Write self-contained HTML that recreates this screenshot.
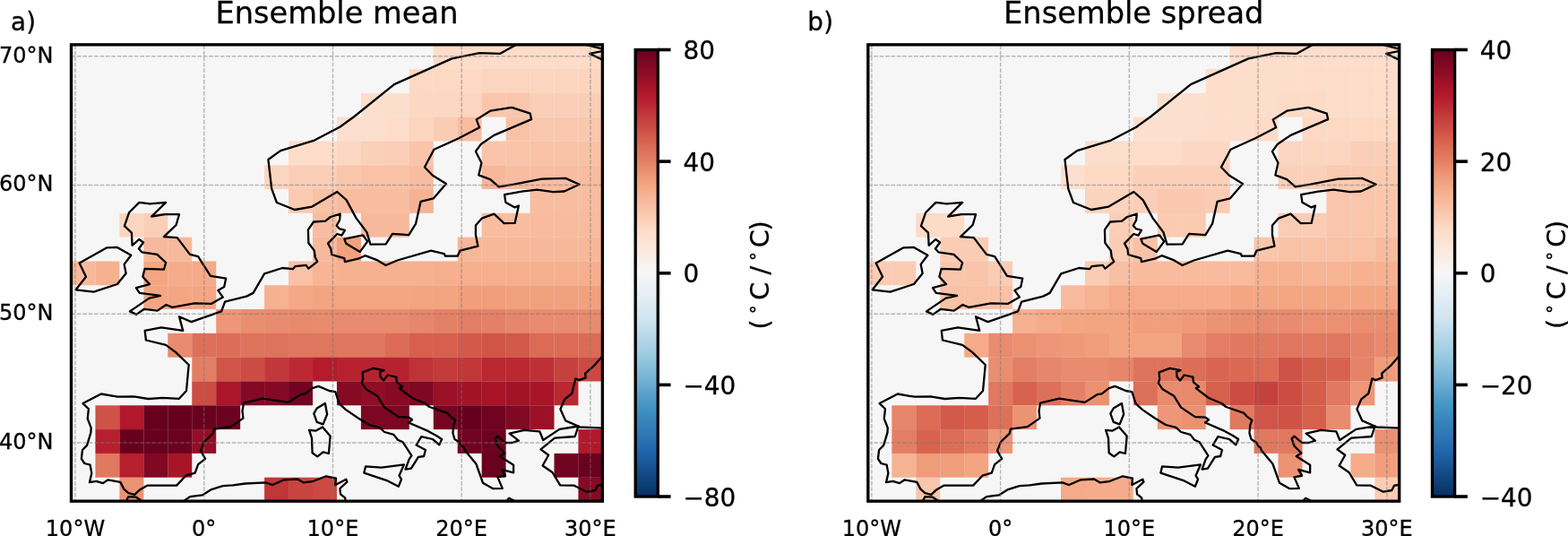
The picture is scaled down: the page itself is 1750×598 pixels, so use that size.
<!DOCTYPE html>
<html lang="en">
<head>
<meta charset="utf-8">
<title>Ensemble mean and ensemble spread</title>
<style>
html,body{margin:0;padding:0;background:#fff;}
body{width:1750px;height:598px;overflow:hidden;}
svg{display:block;}
</style>
</head>
<body>
<svg width="1750" height="598" viewBox="0 0 1750 598" font-family="'DejaVu Sans', 'Liberation Sans', sans-serif">
<defs><linearGradient id="rdbu" x1="0" y1="0" x2="0" y2="1"><stop offset="0%" stop-color="#67001f"/><stop offset="2.5%" stop-color="#790622"/><stop offset="5%" stop-color="#8a0b25"/><stop offset="7.5%" stop-color="#9f1228"/><stop offset="10%" stop-color="#b1182b"/><stop offset="12.5%" stop-color="#ba2832"/><stop offset="15%" stop-color="#c43b3c"/><stop offset="17.5%" stop-color="#cc4c44"/><stop offset="20%" stop-color="#d6604d"/><stop offset="22.5%" stop-color="#dd7059"/><stop offset="25%" stop-color="#e48066"/><stop offset="27.5%" stop-color="#ec9374"/><stop offset="30%" stop-color="#f3a481"/><stop offset="32.5%" stop-color="#f6b394"/><stop offset="35%" stop-color="#f8bfa4"/><stop offset="37.5%" stop-color="#fbccb4"/><stop offset="40%" stop-color="#fddbc7"/><stop offset="42.5%" stop-color="#fce2d2"/><stop offset="45%" stop-color="#fae9df"/><stop offset="47.5%" stop-color="#f9f0eb"/><stop offset="50%" stop-color="#f7f6f6"/><stop offset="52.5%" stop-color="#edf2f5"/><stop offset="55%" stop-color="#e4eef4"/><stop offset="57.5%" stop-color="#dae9f2"/><stop offset="60%" stop-color="#d1e5f0"/><stop offset="62.5%" stop-color="#c2ddec"/><stop offset="65%" stop-color="#b1d5e7"/><stop offset="67.5%" stop-color="#a2cde3"/><stop offset="70%" stop-color="#90c4dd"/><stop offset="72.5%" stop-color="#7eb8d7"/><stop offset="75%" stop-color="#6bacd1"/><stop offset="77.5%" stop-color="#569fc9"/><stop offset="80%" stop-color="#4393c3"/><stop offset="82.5%" stop-color="#3a87bd"/><stop offset="85%" stop-color="#327cb7"/><stop offset="87.5%" stop-color="#2a71b2"/><stop offset="90%" stop-color="#2065ab"/><stop offset="92.5%" stop-color="#1a5899"/><stop offset="95%" stop-color="#124984"/><stop offset="97.5%" stop-color="#0c3d73"/><stop offset="100%" stop-color="#053061"/></linearGradient></defs>
<rect width="1750" height="598" fill="#fff"/>
<g>
<clipPath id="clip0"><rect x="79.5" y="49.85" width="592.9" height="509.3"/></clipPath>
<rect x="79.5" y="49.85" width="592.9" height="509.3" fill="#f7f6f6"/>
<g clip-path="url(#clip0)">
<g stroke="none">
<rect x="483.75" y="50.2" width="27.1" height="26.96" fill="#fddcc9"/>
<rect x="510.7" y="50.2" width="27.1" height="26.96" fill="#fddcc9"/>
<rect x="537.65" y="50.2" width="27.1" height="26.96" fill="#fddcc9"/>
<rect x="564.6" y="50.2" width="27.1" height="26.96" fill="#fddcc9"/>
<rect x="591.55" y="50.2" width="27.1" height="26.96" fill="#fddcc9"/>
<rect x="618.5" y="50.2" width="27.1" height="26.96" fill="#fddcc9"/>
<rect x="645.45" y="50.2" width="26.95" height="26.96" fill="#fddbc7"/>
<rect x="456.8" y="77.01" width="27.1" height="26.96" fill="#fdd9c4"/>
<rect x="483.75" y="77.01" width="27.1" height="26.96" fill="#fdd9c4"/>
<rect x="510.7" y="77.01" width="27.1" height="26.96" fill="#fdd9c4"/>
<rect x="537.65" y="77.01" width="27.1" height="26.96" fill="#fcd5bf"/>
<rect x="564.6" y="77.01" width="27.1" height="26.96" fill="#fcd5bf"/>
<rect x="591.55" y="77.01" width="27.1" height="26.96" fill="#fcd5bf"/>
<rect x="618.5" y="77.01" width="27.1" height="26.96" fill="#fcd5bf"/>
<rect x="645.45" y="77.01" width="26.95" height="26.96" fill="#fcd5bf"/>
<rect x="402.9" y="103.81" width="27.1" height="26.96" fill="#fcdecd"/>
<rect x="429.85" y="103.81" width="27.1" height="26.96" fill="#fcdecd"/>
<rect x="456.8" y="103.81" width="27.1" height="26.96" fill="#fcd7c2"/>
<rect x="483.75" y="103.81" width="27.1" height="26.96" fill="#fcd7c2"/>
<rect x="510.7" y="103.81" width="27.1" height="26.96" fill="#fcd5bf"/>
<rect x="537.65" y="103.81" width="27.1" height="26.81" fill="#f9c6ac"/>
<rect x="564.6" y="103.81" width="27.1" height="26.96" fill="#f9c6ac"/>
<rect x="591.55" y="103.81" width="27.1" height="26.96" fill="#fbceb7"/>
<rect x="618.5" y="103.81" width="27.1" height="26.96" fill="#fbceb7"/>
<rect x="645.45" y="103.81" width="26.95" height="26.96" fill="#fbceb7"/>
<rect x="375.95" y="130.62" width="27.1" height="26.96" fill="#fcdfcf"/>
<rect x="402.9" y="130.62" width="27.1" height="26.96" fill="#fcdfcf"/>
<rect x="429.85" y="130.62" width="27.1" height="26.96" fill="#fddcc9"/>
<rect x="456.8" y="130.62" width="27.1" height="26.96" fill="#fcd5bf"/>
<rect x="483.75" y="130.62" width="27.1" height="26.81" fill="#fbccb4"/>
<rect x="510.7" y="130.62" width="26.95" height="26.81" fill="#f8bda1"/>
<rect x="564.6" y="130.62" width="27.1" height="26.96" fill="#f9c2a7"/>
<rect x="591.55" y="130.62" width="27.1" height="26.96" fill="#fac8af"/>
<rect x="618.5" y="130.62" width="27.1" height="26.96" fill="#fac8af"/>
<rect x="645.45" y="130.62" width="26.95" height="26.96" fill="#fac8af"/>
<rect x="322.05" y="157.42" width="27.1" height="26.96" fill="#fddcc9"/>
<rect x="349" y="157.42" width="27.1" height="26.96" fill="#fddcc9"/>
<rect x="375.95" y="157.42" width="27.1" height="26.96" fill="#fcd7c2"/>
<rect x="402.9" y="157.42" width="27.1" height="26.96" fill="#fbd0b9"/>
<rect x="429.85" y="157.42" width="27.1" height="26.96" fill="#fbceb7"/>
<rect x="456.8" y="157.42" width="26.95" height="26.96" fill="#f9c4a9"/>
<rect x="537.65" y="157.42" width="27.1" height="26.96" fill="#f9c4a9"/>
<rect x="564.6" y="157.42" width="27.1" height="26.96" fill="#f9c4a9"/>
<rect x="591.55" y="157.42" width="27.1" height="26.96" fill="#f9c2a7"/>
<rect x="618.5" y="157.42" width="27.1" height="26.96" fill="#f9c2a7"/>
<rect x="645.45" y="157.42" width="26.95" height="26.96" fill="#f9c2a7"/>
<rect x="295.1" y="184.23" width="27.1" height="26.81" fill="#fcd5bf"/>
<rect x="322.05" y="184.23" width="27.1" height="26.96" fill="#fbceb7"/>
<rect x="349" y="184.23" width="27.1" height="26.96" fill="#fbceb7"/>
<rect x="375.95" y="184.23" width="27.1" height="26.96" fill="#f9c6ac"/>
<rect x="402.9" y="184.23" width="27.1" height="26.96" fill="#f9c2a7"/>
<rect x="429.85" y="184.23" width="27.1" height="26.96" fill="#f9c2a7"/>
<rect x="456.8" y="184.23" width="26.95" height="26.96" fill="#f8bda1"/>
<rect x="537.65" y="184.23" width="27.1" height="26.81" fill="#f7b799"/>
<rect x="564.6" y="184.23" width="27.1" height="26.81" fill="#f8bda1"/>
<rect x="591.55" y="184.23" width="27.1" height="26.96" fill="#f8bda1"/>
<rect x="618.5" y="184.23" width="27.1" height="26.96" fill="#f8bda1"/>
<rect x="645.45" y="184.23" width="26.95" height="26.96" fill="#f8bda1"/>
<rect x="322.05" y="211.03" width="27.1" height="26.81" fill="#facab1"/>
<rect x="349" y="211.03" width="27.1" height="26.96" fill="#f9c2a7"/>
<rect x="375.95" y="211.03" width="27.1" height="26.81" fill="#f8bda1"/>
<rect x="402.9" y="211.03" width="27.1" height="26.96" fill="#f8bda1"/>
<rect x="429.85" y="211.03" width="27.1" height="26.96" fill="#f8bda1"/>
<rect x="456.8" y="211.03" width="26.95" height="26.81" fill="#f6b394"/>
<rect x="591.55" y="211.03" width="27.1" height="26.96" fill="#f8bda1"/>
<rect x="618.5" y="211.03" width="27.1" height="26.96" fill="#f8bda1"/>
<rect x="645.45" y="211.03" width="26.95" height="26.96" fill="#f8bda1"/>
<rect x="133.4" y="237.84" width="27.1" height="26.81" fill="#fcd5bf"/>
<rect x="160.35" y="237.84" width="26.95" height="26.96" fill="#fbceb7"/>
<rect x="349" y="237.84" width="26.95" height="26.96" fill="#f8bda1"/>
<rect x="402.9" y="237.84" width="27.1" height="26.81" fill="#f7b99c"/>
<rect x="429.85" y="237.84" width="26.95" height="26.81" fill="#f7b99c"/>
<rect x="537.65" y="237.84" width="27.1" height="26.96" fill="#f8bda1"/>
<rect x="564.6" y="237.84" width="27.1" height="26.96" fill="#f8bda1"/>
<rect x="591.55" y="237.84" width="27.1" height="26.96" fill="#f8bb9e"/>
<rect x="618.5" y="237.84" width="27.1" height="26.96" fill="#f8bb9e"/>
<rect x="645.45" y="237.84" width="26.95" height="26.96" fill="#f8bb9e"/>
<rect x="160.35" y="264.64" width="27.1" height="26.96" fill="#f7b99c"/>
<rect x="187.3" y="264.64" width="26.95" height="26.96" fill="#f7b99c"/>
<rect x="349" y="264.64" width="27.1" height="26.96" fill="#f7b99c"/>
<rect x="375.95" y="264.64" width="26.95" height="26.96" fill="#f2a17f"/>
<rect x="510.7" y="264.64" width="27.1" height="26.96" fill="#f7b799"/>
<rect x="537.65" y="264.64" width="27.1" height="26.96" fill="#f7b799"/>
<rect x="564.6" y="264.64" width="27.1" height="26.96" fill="#f7b799"/>
<rect x="591.55" y="264.64" width="27.1" height="26.96" fill="#f7b799"/>
<rect x="618.5" y="264.64" width="27.1" height="26.96" fill="#f7b799"/>
<rect x="645.45" y="264.64" width="26.95" height="26.96" fill="#f7b799"/>
<rect x="79.5" y="291.45" width="27.1" height="26.81" fill="#f7b99c"/>
<rect x="106.45" y="291.45" width="26.95" height="26.81" fill="#f6b191"/>
<rect x="160.35" y="291.45" width="27.1" height="26.96" fill="#f4a683"/>
<rect x="187.3" y="291.45" width="27.1" height="26.96" fill="#f5ac8b"/>
<rect x="214.25" y="291.45" width="26.95" height="26.96" fill="#f5aa89"/>
<rect x="322.05" y="291.45" width="27.1" height="26.96" fill="#f9c2a7"/>
<rect x="349" y="291.45" width="27.1" height="26.96" fill="#f7b596"/>
<rect x="375.95" y="291.45" width="27.1" height="26.96" fill="#f6b191"/>
<rect x="402.9" y="291.45" width="27.1" height="26.96" fill="#f6b191"/>
<rect x="429.85" y="291.45" width="27.1" height="26.96" fill="#f6b191"/>
<rect x="456.8" y="291.45" width="27.1" height="26.96" fill="#f6b191"/>
<rect x="483.75" y="291.45" width="27.1" height="26.96" fill="#f6af8e"/>
<rect x="510.7" y="291.45" width="27.1" height="26.96" fill="#f6af8e"/>
<rect x="537.65" y="291.45" width="27.1" height="26.96" fill="#f6af8e"/>
<rect x="564.6" y="291.45" width="27.1" height="26.96" fill="#f6af8e"/>
<rect x="591.55" y="291.45" width="27.1" height="26.96" fill="#f6af8e"/>
<rect x="618.5" y="291.45" width="27.1" height="26.96" fill="#f6af8e"/>
<rect x="645.45" y="291.45" width="26.95" height="26.96" fill="#f6af8e"/>
<rect x="160.35" y="318.25" width="27.1" height="26.81" fill="#f4a683"/>
<rect x="187.3" y="318.25" width="27.1" height="26.81" fill="#f4a683"/>
<rect x="214.25" y="318.25" width="26.95" height="26.81" fill="#f4a683"/>
<rect x="295.1" y="318.25" width="27.1" height="26.96" fill="#f6b191"/>
<rect x="322.05" y="318.25" width="27.1" height="26.96" fill="#f5a886"/>
<rect x="349" y="318.25" width="27.1" height="26.96" fill="#f3a481"/>
<rect x="375.95" y="318.25" width="27.1" height="26.96" fill="#f4a683"/>
<rect x="402.9" y="318.25" width="27.1" height="26.96" fill="#f4a683"/>
<rect x="429.85" y="318.25" width="27.1" height="26.96" fill="#f4a683"/>
<rect x="456.8" y="318.25" width="27.1" height="26.96" fill="#f3a481"/>
<rect x="483.75" y="318.25" width="27.1" height="26.96" fill="#f3a481"/>
<rect x="510.7" y="318.25" width="27.1" height="26.96" fill="#f19e7d"/>
<rect x="537.65" y="318.25" width="27.1" height="26.96" fill="#f19e7d"/>
<rect x="564.6" y="318.25" width="27.1" height="26.96" fill="#f2a17f"/>
<rect x="591.55" y="318.25" width="27.1" height="26.96" fill="#f2a17f"/>
<rect x="618.5" y="318.25" width="27.1" height="26.96" fill="#f2a17f"/>
<rect x="645.45" y="318.25" width="26.95" height="26.96" fill="#f2a17f"/>
<rect x="241.2" y="345.06" width="27.1" height="26.96" fill="#ee9677"/>
<rect x="268.15" y="345.06" width="27.1" height="26.96" fill="#ea8e70"/>
<rect x="295.1" y="345.06" width="27.1" height="26.96" fill="#e98b6e"/>
<rect x="322.05" y="345.06" width="27.1" height="26.96" fill="#e8896c"/>
<rect x="349" y="345.06" width="27.1" height="26.96" fill="#e98b6e"/>
<rect x="375.95" y="345.06" width="27.1" height="26.96" fill="#e98b6e"/>
<rect x="402.9" y="345.06" width="27.1" height="26.96" fill="#e98b6e"/>
<rect x="429.85" y="345.06" width="27.1" height="26.96" fill="#e98b6e"/>
<rect x="456.8" y="345.06" width="27.1" height="26.96" fill="#e6866a"/>
<rect x="483.75" y="345.06" width="27.1" height="26.96" fill="#e48066"/>
<rect x="510.7" y="345.06" width="27.1" height="26.96" fill="#e37e64"/>
<rect x="537.65" y="345.06" width="27.1" height="26.96" fill="#e48066"/>
<rect x="564.6" y="345.06" width="27.1" height="26.96" fill="#e6866a"/>
<rect x="591.55" y="345.06" width="27.1" height="26.96" fill="#e98b6e"/>
<rect x="618.5" y="345.06" width="27.1" height="26.96" fill="#e98b6e"/>
<rect x="645.45" y="345.06" width="26.95" height="26.96" fill="#e98b6e"/>
<rect x="187.3" y="371.86" width="27.1" height="26.81" fill="#e98b6e"/>
<rect x="214.25" y="371.86" width="27.1" height="26.96" fill="#dd7059"/>
<rect x="241.2" y="371.86" width="27.1" height="26.96" fill="#dc6e57"/>
<rect x="268.15" y="371.86" width="27.1" height="26.96" fill="#de735c"/>
<rect x="295.1" y="371.86" width="27.1" height="26.96" fill="#de735c"/>
<rect x="322.05" y="371.86" width="27.1" height="26.96" fill="#df765e"/>
<rect x="349" y="371.86" width="27.1" height="26.96" fill="#df765e"/>
<rect x="375.95" y="371.86" width="27.1" height="26.96" fill="#df765e"/>
<rect x="402.9" y="371.86" width="27.1" height="26.96" fill="#df765e"/>
<rect x="429.85" y="371.86" width="27.1" height="26.96" fill="#db6b55"/>
<rect x="456.8" y="371.86" width="27.1" height="26.96" fill="#d6604d"/>
<rect x="483.75" y="371.86" width="27.1" height="26.96" fill="#d6604d"/>
<rect x="510.7" y="371.86" width="27.1" height="26.96" fill="#d35a4a"/>
<rect x="537.65" y="371.86" width="27.1" height="26.96" fill="#d05548"/>
<rect x="564.6" y="371.86" width="27.1" height="26.96" fill="#d25849"/>
<rect x="591.55" y="371.86" width="27.1" height="26.96" fill="#db6b55"/>
<rect x="618.5" y="371.86" width="27.1" height="26.96" fill="#db6b55"/>
<rect x="645.45" y="371.86" width="26.95" height="26.96" fill="#db6b55"/>
<rect x="214.25" y="398.67" width="27.1" height="26.96" fill="#e37e64"/>
<rect x="241.2" y="398.67" width="27.1" height="26.96" fill="#d05548"/>
<rect x="268.15" y="398.67" width="27.1" height="26.96" fill="#cc4c44"/>
<rect x="295.1" y="398.67" width="27.1" height="26.96" fill="#c2383a"/>
<rect x="322.05" y="398.67" width="27.1" height="26.96" fill="#bb2a34"/>
<rect x="349" y="398.67" width="27.1" height="26.81" fill="#b41c2d"/>
<rect x="375.95" y="398.67" width="27.1" height="26.96" fill="#b72230"/>
<rect x="402.9" y="398.67" width="27.1" height="26.96" fill="#b72230"/>
<rect x="429.85" y="398.67" width="27.1" height="26.96" fill="#b72230"/>
<rect x="456.8" y="398.67" width="27.1" height="26.96" fill="#bf3338"/>
<rect x="483.75" y="398.67" width="27.1" height="26.96" fill="#c43b3c"/>
<rect x="510.7" y="398.67" width="27.1" height="26.96" fill="#c13639"/>
<rect x="537.65" y="398.67" width="27.1" height="26.96" fill="#ba2832"/>
<rect x="564.6" y="398.67" width="27.1" height="26.96" fill="#ba2832"/>
<rect x="591.55" y="398.67" width="27.1" height="26.96" fill="#be3036"/>
<rect x="618.5" y="398.67" width="27.1" height="26.96" fill="#c6413e"/>
<rect x="645.45" y="398.67" width="26.95" height="26.81" fill="#cb4942"/>
<rect x="214.25" y="425.47" width="27.1" height="26.96" fill="#cc4c44"/>
<rect x="241.2" y="425.47" width="27.1" height="26.96" fill="#ab162a"/>
<rect x="268.15" y="425.47" width="27.1" height="26.81" fill="#840924"/>
<rect x="295.1" y="425.47" width="27.1" height="26.81" fill="#840924"/>
<rect x="322.05" y="425.47" width="26.95" height="26.81" fill="#730421"/>
<rect x="375.95" y="425.47" width="27.1" height="26.81" fill="#870a24"/>
<rect x="402.9" y="425.47" width="27.1" height="26.96" fill="#900d26"/>
<rect x="429.85" y="425.47" width="27.1" height="26.96" fill="#870a24"/>
<rect x="456.8" y="425.47" width="27.1" height="26.81" fill="#7f0823"/>
<rect x="483.75" y="425.47" width="27.1" height="26.96" fill="#991027"/>
<rect x="510.7" y="425.47" width="27.1" height="26.96" fill="#a21328"/>
<rect x="537.65" y="425.47" width="27.1" height="26.96" fill="#a81529"/>
<rect x="564.6" y="425.47" width="27.1" height="26.96" fill="#a21328"/>
<rect x="591.55" y="425.47" width="27.1" height="26.96" fill="#a81529"/>
<rect x="618.5" y="425.47" width="26.95" height="26.81" fill="#ba2832"/>
<rect x="106.45" y="452.28" width="27.1" height="26.96" fill="#cf5246"/>
<rect x="133.4" y="452.28" width="27.1" height="26.96" fill="#b1182b"/>
<rect x="160.35" y="452.28" width="27.1" height="26.96" fill="#67001f"/>
<rect x="187.3" y="452.28" width="27.1" height="26.96" fill="#67001f"/>
<rect x="214.25" y="452.28" width="27.1" height="26.96" fill="#6a011f"/>
<rect x="241.2" y="452.28" width="26.95" height="26.81" fill="#6d0220"/>
<rect x="402.9" y="452.28" width="27.1" height="26.81" fill="#7c0722"/>
<rect x="429.85" y="452.28" width="26.95" height="26.81" fill="#7c0722"/>
<rect x="483.75" y="452.28" width="27.1" height="26.81" fill="#760521"/>
<rect x="510.7" y="452.28" width="27.1" height="26.96" fill="#67001f"/>
<rect x="537.65" y="452.28" width="27.1" height="26.96" fill="#700320"/>
<rect x="564.6" y="452.28" width="27.1" height="26.81" fill="#810823"/>
<rect x="591.55" y="452.28" width="26.95" height="26.81" fill="#9c1127"/>
<rect x="106.45" y="479.08" width="27.1" height="26.96" fill="#b61f2e"/>
<rect x="133.4" y="479.08" width="27.1" height="26.96" fill="#67001f"/>
<rect x="160.35" y="479.08" width="27.1" height="26.96" fill="#67001f"/>
<rect x="187.3" y="479.08" width="27.1" height="26.96" fill="#6a011f"/>
<rect x="214.25" y="479.08" width="26.95" height="26.81" fill="#930e26"/>
<rect x="510.7" y="479.08" width="27.1" height="26.81" fill="#700320"/>
<rect x="537.65" y="479.08" width="26.95" height="26.96" fill="#6d0220"/>
<rect x="645.45" y="479.08" width="26.95" height="26.96" fill="#b1182b"/>
<rect x="106.45" y="505.89" width="27.1" height="26.81" fill="#e17860"/>
<rect x="133.4" y="505.89" width="27.1" height="26.96" fill="#b61f2e"/>
<rect x="160.35" y="505.89" width="27.1" height="26.81" fill="#810823"/>
<rect x="187.3" y="505.89" width="26.95" height="26.81" fill="#a81529"/>
<rect x="537.65" y="505.89" width="26.95" height="26.81" fill="#6a011f"/>
<rect x="618.5" y="505.89" width="27.1" height="26.81" fill="#700320"/>
<rect x="645.45" y="505.89" width="26.95" height="26.96" fill="#6a011f"/>
<rect x="133.4" y="532.69" width="26.95" height="26.81" fill="#ec9374"/>
<rect x="295.1" y="532.69" width="27.1" height="26.81" fill="#c13639"/>
<rect x="322.05" y="532.69" width="27.1" height="26.81" fill="#c84440"/>
<rect x="349" y="532.69" width="26.95" height="26.81" fill="#cb4942"/>
<rect x="645.45" y="532.69" width="26.95" height="26.81" fill="#870a24"/>
</g>
<g fill="none" stroke="#000" stroke-width="2.3" stroke-linejoin="round" stroke-linecap="butt">
<path d="M579.5 48 L558.3 59.8 L535.2 59.1 L504.3 65.4 L440 94.1 L395.4 130 L379.2 141.7 L350.9 156.6 L313.1 168.1 L299.4 178 L303.2 210.6 L308.9 226 L328.9 234 L348.3 230.6 L376.3 214 L386.6 223.1 L397.4 243.1 L409.4 259.1 L413.4 272.6 L430.6 272.3 L438 260.9 L456.3 262.1 L464 249.7 L469.5 224.9 L483.7 221.4 L497.9 204.9 L482.9 195.7 L473.9 186.5 L484.4 166.7 L512 154.3 L535.1 142.3 L531.7 133.4 L547.2 123.7 L571.2 119.8 L591.7 126.7 L593.1 133.1 L551.4 150.9 L536.9 160.8 L530.9 168.9 L537.4 181.7 L534.3 195.4 L547.2 200.2 L556.6 208.3 L573.7 205.7 L604.6 199.7 L631.2 198.9 L646.6 205.8 L629.8 213.5 L617.4 214.2 L599.4 211.7 L582.3 213.6 L563.1 217.1 L564.3 225.7 L574.6 231.4 L578.9 229.5 L574.6 248.9 L562.6 249.2 L551.4 238.6 L537.7 243.7 L530.9 251.4 L530.9 261.7 L533.4 274.6 L513.4 279.7 L510.6 285.7 L496.9 285.7 L495.7 283.1 L481.1 279.7 L443.4 290.5 L430.6 296 L421.4 290.4 L407.5 285.2 L399.7 288.7 L384.9 292.1 L384.3 288.1 L370.2 284.1 L369.4 277.9 L366 271.6 L376.3 261 L381.4 262.6 L384.9 256.9 L378.6 255.1 L375.7 251.7 L379.1 245.4 L379.7 238.6 L368.9 242 L363.1 246.6 L350 247.5 L343.9 256.3 L344.3 271 L350.8 279.6 L351.7 287 L354.2 291.8 L344.3 299.6 L341.7 295.9 L329.4 297.1 L327.1 300.1 L315.1 299 L295.1 305.3 L282.6 326.9 L275.1 330.6 L251.1 336.6 L247.1 347.4 L213.5 359.1 L200 353.2 L204.2 368.9 L180 365.4 L161.7 368.9 L162.9 379.5 L185.1 384.9 L196 392.9 L210.7 407 L208 436 L199.9 444.8 L181.6 443.8 L165.5 445 L149.3 442.4 L131.3 442.7 L112.8 439.5 L92.6 450.1 L98.9 456.3 L97.7 467.1 L101.7 477.4 L101.4 482.6 L97.1 496.9 L92 502 L90.9 511.8 L94.3 517 L100.6 518.7 L102.3 527.9 L100 538.1 L107.4 536.8 L114.9 539.1 L120.6 535.3 L134.3 537.9 L138.3 545.6 L143.4 550.1 L150.3 551.9 L156 546.4 L164.6 541.6 L197.1 541.6 L207.4 530.7 L217.7 527.6 L221.1 518.1 L229.1 511.8 L224 502.9 L228 492.9 L237.7 483.7 L238.9 478.6 L257.7 476.1 L271.4 466.6 L270.5 458.5 L272 449.6 L293.1 444.6 L321.7 448.9 L335.4 440.2 L340.6 439.4 L348.6 433.1 L355.4 430.9 L367.4 436 L374.3 437.1 L378.5 450.2 L385.7 456.9 L399.4 466.3 L412 474 L423.4 476.9 L429.1 482 L439.4 484.9 L444 490.8 L449.7 493.3 L459.4 508.4 L456.6 512.4 L452.5 523.7 L458.9 522.7 L466.9 509.9 L473.1 509 L474.9 502 L464.6 496.6 L470.3 487.1 L482.9 490 L490.3 496.3 L493.1 490 L486.9 486 L477.7 480.9 L456 471.5 L460 468.3 L456.3 465.7 L444.8 465.1 L429.1 454.6 L421.1 441.7 L408.6 434.3 L403.8 427.4 L405.1 422.9 L404.6 415.4 L416.6 410.9 L428.6 413.1 L424 414.9 L424.6 420.6 L428 424.6 L432.6 418.5 L442.3 420.6 L442.9 426.3 L449.1 431.4 L445.7 433.1 L460 444 L474.3 450 L479.4 454 L499.4 460.9 L502.3 464.3 L508.3 468.9 L506.3 474 L505.4 483.1 L507.4 490 L513.1 493.7 L516 498.6 L517.7 499.1 L518.9 502.6 L531.4 517.5 L538.9 538.7 L550.4 545.2 L560.8 544.9 L555.4 532.4 L564 530.7 L560 523.9 L573.1 527.3 L573.1 518.7 L557.7 509 L563.4 505.5 L555.4 497.5 L552.6 489.4 L555.4 486.6 L564 494 L571.4 494 L578.9 491.7 L568.6 483.7 L585.1 479.9 L602.3 481.3 L606.2 491 L624.5 478.9 L645.5 475.5 L641.7 487 L619.1 488.7 L603.5 501.4 L612.2 507.8 L605.6 519.5 L616.5 527 L625.2 541.4 L640.9 541.7 L654.8 548.7 L664.3 547 L667 541.7 L674 540.9"/>
<path d="M674 395.5 L663.4 407.6 L653.1 416.7 L653.7 421.3 L646.3 424.1 L642.3 422.4 L638.3 439 L630.3 445.3 L625.4 456.5 L631.3 469.4 L645.5 475.5 L647 476.5 L674 477.7"/>
<path d="M650.5 49 L674 55"/>
<path d="M674 56.6 L658.2 59.9 L674 67.5"/>
<path d="M140.6 559 L143.4 554.1 L152 554.7 L158.3 559"/>
<path d="M205.1 559 L212 554.1 L225.7 552.4 L236 546.1 L248.6 542.1 L260 541.3 L273.7 539.5 L296.6 538.4 L304 541 L317.1 535.3 L332 534.5 L338.9 538.4 L348.6 537.2 L364 531.3 L374.9 533.6 L374.3 541 L386.3 534.7 L387.4 537.6 L379.4 545 L380 551.3 L385.1 555.3 L385.7 559"/>
<path d="M565.3 558.8 L568.1 555.7 L574.2 558.8"/>
<path d="M88.6 293.6 L118.9 276.4 L130.9 275.9 L146.3 284.7 L138.6 294.9 L140.6 305 L130.9 317 L104.6 325.6 L84.6 323.3 L96 308.7 Z"/>
<path d="M155.4 225.9 L167.4 227.3 L185.1 225.9 L169.1 241.5 L184 239.2 L200 239.2 L196.6 251 L182.9 264.1 L197.7 265.1 L212 283.9 L221.1 286.1 L234.9 307.9 L252.2 310.6 L250.2 320 L243.3 323.9 L248.8 331.6 L235.7 338.9 L216.9 338.3 L192.3 342.9 L185.4 340 L175.7 346.6 L160.9 344.8 L152.3 350.9 L144.9 347.4 L166.6 332.6 L179.1 329.9 L155.7 326.8 L151.9 321.1 L167 317.1 L159.3 308.8 L161.6 299.8 L182.9 300.7 L185.1 293 L175.4 283.9 L158.3 281.3 L154.9 277.5 L160 270.5 L155.2 267 L147.6 273.8 L146.9 259.6 L138.9 252.1 L144 237.3 Z"/>
<path d="M384.3 266.6 L404.9 262.3 L410.2 269.4 L401.8 280.9 L386.3 271.8 Z"/>
<path d="M362.9 450 L365.1 462.3 L360.6 473.4 L353.7 470.8 L350.3 461.3 L353.7 455.5 Z"/>
<path d="M360 476.5 L368.6 486.6 L366.9 506 L360.6 504.3 L354.3 509.4 L348.6 505.3 L348 488.9 L345.1 479.9 L352.6 480.6 Z"/>
<path d="M408 520.4 L425.7 521.6 L450.9 518.3 L445.5 530.7 L448 534.7 L444.8 542.7 L432.6 536.4 L406.3 527.6 Z"/>
</g>
<g stroke="#787878" stroke-width="1.4" stroke-dasharray="4.7 1.7" opacity="0.5" fill="none">
<path d="M83.99 50.55 V559.15"/>
<path d="M227.72 50.55 V559.15"/>
<path d="M371.46 50.55 V559.15"/>
<path d="M515.19 50.55 V559.15"/>
<path d="M658.92 50.55 V559.15"/>
<path d="M79.5 493.96 H672.4"/>
<path d="M79.5 350.23 H672.4"/>
<path d="M79.5 206.5 H672.4"/>
<path d="M79.5 62.78 H672.4"/>
</g>
</g>
<rect x="79.5" y="49.85" width="592.9" height="509.3" fill="none" stroke="#000" stroke-width="3.35" stroke-linejoin="miter"/>
<g font-size="24.0" fill="#000" stroke="#000" stroke-width="0.3">
<text x="83.99" y="598.4" text-anchor="middle">10°W</text>
<text x="227.72" y="598.4" text-anchor="middle">0°</text>
<text x="371.46" y="598.4" text-anchor="middle">10°E</text>
<text x="515.19" y="598.4" text-anchor="middle">20°E</text>
<text x="658.92" y="598.4" text-anchor="middle">30°E</text>
<text x="59.5" y="500.76" text-anchor="end">40°N</text>
<text x="59.5" y="357.03" text-anchor="end">50°N</text>
<text x="59.5" y="213.3" text-anchor="end">60°N</text>
<text x="59.5" y="69.58" text-anchor="end">70°N</text>
</g>
<text transform="translate(375.95 26.1) scale(1 0.975)" text-anchor="middle" font-size="33.65" stroke="#000" stroke-width="0.3">Ensemble mean</text>
<text x="12" y="33.8"  font-size="27.7" letter-spacing="0.35" stroke="#000" stroke-width="0.3">a)</text>
<rect x="709.2" y="55.5" width="25.1" height="498.5" fill="url(#rdbu)"/>
<rect x="709.2" y="55.5" width="25.1" height="498.5" fill="none" stroke="#000" stroke-width="3.35"/>
<g stroke="#000" stroke-width="3.6" font-size="27.9">
<path d="M734.3 55.5 h14.3"/>
<text x="762.4" y="66.1" stroke-width="0.3">80</text>
<path d="M734.3 180.12 h14.3"/>
<text x="762.4" y="190.72" stroke-width="0.3">40</text>
<path d="M734.3 304.75 h14.3"/>
<text x="762.4" y="315.35" stroke-width="0.3">0</text>
<path d="M734.3 429.38 h14.3"/>
<text x="762.4" y="439.98" stroke-width="0.3">−40</text>
<path d="M734.3 554 h14.3"/>
<text x="762.4" y="564.6" stroke-width="0.3">−80</text>
</g>
<text transform="translate(858.3 365) rotate(-90)" stroke="#000" stroke-width="0.3"><tspan x="-2.44" y="0" font-size="28.6">(</tspan><tspan x="14.65" y="-6.4" font-size="20.02">°</tspan><tspan x="30.3" y="0" font-size="28.6">C </tspan><tspan x="58.56" y="0" font-size="28.6">/ </tspan><tspan x="73.9" y="-6.4" font-size="20.02">°</tspan><tspan x="88.76" y="0" font-size="28.6">C</tspan><tspan x="107.55" y="0" font-size="28.6">)</tspan></text>
</g>
<g>
<clipPath id="clip1"><rect x="968.8" y="49.85" width="592.9" height="509.3"/></clipPath>
<rect x="968.8" y="49.85" width="592.9" height="509.3" fill="#f7f6f6"/>
<g clip-path="url(#clip1)">
<g stroke="none">
<rect x="1372.65" y="50.2" width="27.1" height="26.96" fill="#fdddcb"/>
<rect x="1399.6" y="50.2" width="27.1" height="26.96" fill="#fdddcb"/>
<rect x="1426.55" y="50.2" width="27.1" height="26.96" fill="#fdddcb"/>
<rect x="1453.5" y="50.2" width="27.1" height="26.96" fill="#fdddcb"/>
<rect x="1480.45" y="50.2" width="27.1" height="26.96" fill="#fdddcb"/>
<rect x="1507.4" y="50.2" width="27.1" height="26.96" fill="#fdddcb"/>
<rect x="1534.35" y="50.2" width="26.95" height="26.96" fill="#fdddcb"/>
<rect x="1345.7" y="77.01" width="27.1" height="26.96" fill="#fdddcb"/>
<rect x="1372.65" y="77.01" width="27.1" height="26.96" fill="#fdddcb"/>
<rect x="1399.6" y="77.01" width="27.1" height="26.96" fill="#fdddcb"/>
<rect x="1426.55" y="77.01" width="27.1" height="26.96" fill="#fdddcb"/>
<rect x="1453.5" y="77.01" width="27.1" height="26.96" fill="#fddcc9"/>
<rect x="1480.45" y="77.01" width="27.1" height="26.96" fill="#fddcc9"/>
<rect x="1507.4" y="77.01" width="27.1" height="26.96" fill="#fddcc9"/>
<rect x="1534.35" y="77.01" width="26.95" height="26.96" fill="#fddcc9"/>
<rect x="1291.8" y="103.81" width="27.1" height="26.96" fill="#fcdfcf"/>
<rect x="1318.75" y="103.81" width="27.1" height="26.96" fill="#fcdfcf"/>
<rect x="1345.7" y="103.81" width="27.1" height="26.96" fill="#fdddcb"/>
<rect x="1372.65" y="103.81" width="27.1" height="26.96" fill="#fdddcb"/>
<rect x="1399.6" y="103.81" width="27.1" height="26.96" fill="#fdddcb"/>
<rect x="1426.55" y="103.81" width="27.1" height="26.81" fill="#fddbc7"/>
<rect x="1453.5" y="103.81" width="27.1" height="26.96" fill="#fddbc7"/>
<rect x="1480.45" y="103.81" width="27.1" height="26.96" fill="#fddcc9"/>
<rect x="1507.4" y="103.81" width="27.1" height="26.96" fill="#fddcc9"/>
<rect x="1534.35" y="103.81" width="26.95" height="26.96" fill="#fddcc9"/>
<rect x="1264.85" y="130.62" width="27.1" height="26.96" fill="#fcdfcf"/>
<rect x="1291.8" y="130.62" width="27.1" height="26.96" fill="#fcdfcf"/>
<rect x="1318.75" y="130.62" width="27.1" height="26.96" fill="#fcdfcf"/>
<rect x="1345.7" y="130.62" width="27.1" height="26.96" fill="#fdddcb"/>
<rect x="1372.65" y="130.62" width="27.1" height="26.81" fill="#fdddcb"/>
<rect x="1399.6" y="130.62" width="26.95" height="26.81" fill="#fddbc7"/>
<rect x="1453.5" y="130.62" width="27.1" height="26.96" fill="#fdd9c4"/>
<rect x="1480.45" y="130.62" width="27.1" height="26.96" fill="#fdd9c4"/>
<rect x="1507.4" y="130.62" width="27.1" height="26.96" fill="#fdd9c4"/>
<rect x="1534.35" y="130.62" width="26.95" height="26.96" fill="#fdd9c4"/>
<rect x="1210.95" y="157.42" width="27.1" height="26.96" fill="#fdddcb"/>
<rect x="1237.9" y="157.42" width="27.1" height="26.96" fill="#fdddcb"/>
<rect x="1264.85" y="157.42" width="27.1" height="26.96" fill="#fddcc9"/>
<rect x="1291.8" y="157.42" width="27.1" height="26.96" fill="#fddcc9"/>
<rect x="1318.75" y="157.42" width="27.1" height="26.96" fill="#fcd7c2"/>
<rect x="1345.7" y="157.42" width="26.95" height="26.96" fill="#fcd7c2"/>
<rect x="1426.55" y="157.42" width="27.1" height="26.96" fill="#fcd5bf"/>
<rect x="1453.5" y="157.42" width="27.1" height="26.96" fill="#fcd5bf"/>
<rect x="1480.45" y="157.42" width="27.1" height="26.96" fill="#fcd5bf"/>
<rect x="1507.4" y="157.42" width="27.1" height="26.96" fill="#fbceb7"/>
<rect x="1534.35" y="157.42" width="26.95" height="26.96" fill="#fbceb7"/>
<rect x="1184" y="184.23" width="27.1" height="26.81" fill="#fcdfcf"/>
<rect x="1210.95" y="184.23" width="27.1" height="26.96" fill="#fdd9c4"/>
<rect x="1237.9" y="184.23" width="27.1" height="26.96" fill="#fdd9c4"/>
<rect x="1264.85" y="184.23" width="27.1" height="26.96" fill="#fbd0b9"/>
<rect x="1291.8" y="184.23" width="27.1" height="26.96" fill="#fbd0b9"/>
<rect x="1318.75" y="184.23" width="27.1" height="26.96" fill="#fbd0b9"/>
<rect x="1345.7" y="184.23" width="26.95" height="26.96" fill="#fbd0b9"/>
<rect x="1426.55" y="184.23" width="27.1" height="26.81" fill="#fbd0b9"/>
<rect x="1453.5" y="184.23" width="27.1" height="26.81" fill="#fbd0b9"/>
<rect x="1480.45" y="184.23" width="27.1" height="26.96" fill="#facab1"/>
<rect x="1507.4" y="184.23" width="27.1" height="26.96" fill="#facab1"/>
<rect x="1534.35" y="184.23" width="26.95" height="26.96" fill="#facab1"/>
<rect x="1210.95" y="211.03" width="27.1" height="26.81" fill="#fcd3bc"/>
<rect x="1237.9" y="211.03" width="27.1" height="26.96" fill="#fcd3bc"/>
<rect x="1264.85" y="211.03" width="27.1" height="26.81" fill="#fbceb7"/>
<rect x="1291.8" y="211.03" width="27.1" height="26.96" fill="#fac8af"/>
<rect x="1318.75" y="211.03" width="27.1" height="26.96" fill="#fac8af"/>
<rect x="1345.7" y="211.03" width="26.95" height="26.81" fill="#fbccb4"/>
<rect x="1480.45" y="211.03" width="27.1" height="26.96" fill="#f9c6ac"/>
<rect x="1507.4" y="211.03" width="27.1" height="26.96" fill="#f9c6ac"/>
<rect x="1534.35" y="211.03" width="26.95" height="26.96" fill="#f9c6ac"/>
<rect x="1022.3" y="237.84" width="27.1" height="26.81" fill="#fddbc7"/>
<rect x="1049.25" y="237.84" width="26.95" height="26.96" fill="#fddbc7"/>
<rect x="1237.9" y="237.84" width="26.95" height="26.96" fill="#fbceb7"/>
<rect x="1291.8" y="237.84" width="27.1" height="26.81" fill="#facab1"/>
<rect x="1318.75" y="237.84" width="26.95" height="26.81" fill="#facab1"/>
<rect x="1426.55" y="237.84" width="27.1" height="26.96" fill="#fbccb4"/>
<rect x="1453.5" y="237.84" width="27.1" height="26.96" fill="#fbccb4"/>
<rect x="1480.45" y="237.84" width="27.1" height="26.96" fill="#f9c6ac"/>
<rect x="1507.4" y="237.84" width="27.1" height="26.96" fill="#f9c6ac"/>
<rect x="1534.35" y="237.84" width="26.95" height="26.96" fill="#f9c6ac"/>
<rect x="1049.25" y="264.64" width="27.1" height="26.96" fill="#fbccb4"/>
<rect x="1076.2" y="264.64" width="26.95" height="26.96" fill="#fbccb4"/>
<rect x="1237.9" y="264.64" width="27.1" height="26.96" fill="#fbccb4"/>
<rect x="1264.85" y="264.64" width="26.95" height="26.96" fill="#f9c2a7"/>
<rect x="1399.6" y="264.64" width="27.1" height="26.96" fill="#f9c6ac"/>
<rect x="1426.55" y="264.64" width="27.1" height="26.96" fill="#f9c2a7"/>
<rect x="1453.5" y="264.64" width="27.1" height="26.96" fill="#f9c2a7"/>
<rect x="1480.45" y="264.64" width="27.1" height="26.96" fill="#f9c2a7"/>
<rect x="1507.4" y="264.64" width="27.1" height="26.96" fill="#f9c2a7"/>
<rect x="1534.35" y="264.64" width="26.95" height="26.96" fill="#f8bb9e"/>
<rect x="968.4" y="291.45" width="27.1" height="26.81" fill="#fbccb4"/>
<rect x="995.35" y="291.45" width="26.95" height="26.81" fill="#fbccb4"/>
<rect x="1049.25" y="291.45" width="27.1" height="26.96" fill="#f9c6ac"/>
<rect x="1076.2" y="291.45" width="27.1" height="26.96" fill="#f9c4a9"/>
<rect x="1103.15" y="291.45" width="26.95" height="26.96" fill="#fbccb4"/>
<rect x="1210.95" y="291.45" width="27.1" height="26.96" fill="#fbccb4"/>
<rect x="1237.9" y="291.45" width="27.1" height="26.96" fill="#f8bfa4"/>
<rect x="1264.85" y="291.45" width="27.1" height="26.96" fill="#f8bb9e"/>
<rect x="1291.8" y="291.45" width="27.1" height="26.96" fill="#f8bb9e"/>
<rect x="1318.75" y="291.45" width="27.1" height="26.96" fill="#f8bb9e"/>
<rect x="1345.7" y="291.45" width="27.1" height="26.96" fill="#f8bb9e"/>
<rect x="1372.65" y="291.45" width="27.1" height="26.96" fill="#f8bb9e"/>
<rect x="1399.6" y="291.45" width="27.1" height="26.96" fill="#f6b191"/>
<rect x="1426.55" y="291.45" width="27.1" height="26.96" fill="#f6b191"/>
<rect x="1453.5" y="291.45" width="27.1" height="26.96" fill="#f7b596"/>
<rect x="1480.45" y="291.45" width="27.1" height="26.96" fill="#f7b596"/>
<rect x="1507.4" y="291.45" width="27.1" height="26.96" fill="#f6b191"/>
<rect x="1534.35" y="291.45" width="26.95" height="26.96" fill="#f6b191"/>
<rect x="1049.25" y="318.25" width="27.1" height="26.81" fill="#f9c2a7"/>
<rect x="1076.2" y="318.25" width="27.1" height="26.81" fill="#f9c2a7"/>
<rect x="1103.15" y="318.25" width="26.95" height="26.81" fill="#f9c2a7"/>
<rect x="1184" y="318.25" width="27.1" height="26.96" fill="#f8bb9e"/>
<rect x="1210.95" y="318.25" width="27.1" height="26.96" fill="#f6b394"/>
<rect x="1237.9" y="318.25" width="27.1" height="26.96" fill="#f5aa89"/>
<rect x="1264.85" y="318.25" width="27.1" height="26.96" fill="#f5aa89"/>
<rect x="1291.8" y="318.25" width="27.1" height="26.96" fill="#f5aa89"/>
<rect x="1318.75" y="318.25" width="27.1" height="26.96" fill="#f5aa89"/>
<rect x="1345.7" y="318.25" width="27.1" height="26.96" fill="#f5aa89"/>
<rect x="1372.65" y="318.25" width="27.1" height="26.96" fill="#f4a683"/>
<rect x="1399.6" y="318.25" width="27.1" height="26.96" fill="#f4a683"/>
<rect x="1426.55" y="318.25" width="27.1" height="26.96" fill="#f4a683"/>
<rect x="1453.5" y="318.25" width="27.1" height="26.96" fill="#f4a683"/>
<rect x="1480.45" y="318.25" width="27.1" height="26.96" fill="#f4a683"/>
<rect x="1507.4" y="318.25" width="27.1" height="26.96" fill="#f4a683"/>
<rect x="1534.35" y="318.25" width="26.95" height="26.96" fill="#f4a683"/>
<rect x="1130.1" y="345.06" width="27.1" height="26.96" fill="#f6b191"/>
<rect x="1157.05" y="345.06" width="27.1" height="26.96" fill="#f5aa89"/>
<rect x="1184" y="345.06" width="27.1" height="26.96" fill="#f4a683"/>
<rect x="1210.95" y="345.06" width="27.1" height="26.96" fill="#f3a481"/>
<rect x="1237.9" y="345.06" width="27.1" height="26.96" fill="#f3a481"/>
<rect x="1264.85" y="345.06" width="27.1" height="26.96" fill="#f19e7d"/>
<rect x="1291.8" y="345.06" width="27.1" height="26.96" fill="#f19e7d"/>
<rect x="1318.75" y="345.06" width="27.1" height="26.96" fill="#ef9979"/>
<rect x="1345.7" y="345.06" width="27.1" height="26.96" fill="#ec9374"/>
<rect x="1372.65" y="345.06" width="27.1" height="26.96" fill="#ea8e70"/>
<rect x="1399.6" y="345.06" width="27.1" height="26.96" fill="#e98b6e"/>
<rect x="1426.55" y="345.06" width="27.1" height="26.96" fill="#e98b6e"/>
<rect x="1453.5" y="345.06" width="27.1" height="26.96" fill="#eb9172"/>
<rect x="1480.45" y="345.06" width="27.1" height="26.96" fill="#eb9172"/>
<rect x="1507.4" y="345.06" width="27.1" height="26.96" fill="#ea8e70"/>
<rect x="1534.35" y="345.06" width="26.95" height="26.96" fill="#ea8e70"/>
<rect x="1076.2" y="371.86" width="27.1" height="26.81" fill="#f5aa89"/>
<rect x="1103.15" y="371.86" width="27.1" height="26.96" fill="#e98b6e"/>
<rect x="1130.1" y="371.86" width="27.1" height="26.96" fill="#eb9172"/>
<rect x="1157.05" y="371.86" width="27.1" height="26.96" fill="#ee9677"/>
<rect x="1184" y="371.86" width="27.1" height="26.96" fill="#ef9979"/>
<rect x="1210.95" y="371.86" width="27.1" height="26.96" fill="#f19e7d"/>
<rect x="1237.9" y="371.86" width="27.1" height="26.96" fill="#f3a481"/>
<rect x="1264.85" y="371.86" width="27.1" height="26.96" fill="#f3a481"/>
<rect x="1291.8" y="371.86" width="27.1" height="26.96" fill="#f3a481"/>
<rect x="1318.75" y="371.86" width="27.1" height="26.96" fill="#e98b6e"/>
<rect x="1345.7" y="371.86" width="27.1" height="26.96" fill="#e37e64"/>
<rect x="1372.65" y="371.86" width="27.1" height="26.96" fill="#e17860"/>
<rect x="1399.6" y="371.86" width="27.1" height="26.96" fill="#e17860"/>
<rect x="1426.55" y="371.86" width="27.1" height="26.96" fill="#df765e"/>
<rect x="1453.5" y="371.86" width="27.1" height="26.96" fill="#e17860"/>
<rect x="1480.45" y="371.86" width="27.1" height="26.96" fill="#df765e"/>
<rect x="1507.4" y="371.86" width="27.1" height="26.96" fill="#e58368"/>
<rect x="1534.35" y="371.86" width="26.95" height="26.96" fill="#e8896c"/>
<rect x="1103.15" y="398.67" width="27.1" height="26.96" fill="#ea8e70"/>
<rect x="1130.1" y="398.67" width="27.1" height="26.96" fill="#e37e64"/>
<rect x="1157.05" y="398.67" width="27.1" height="26.96" fill="#e6866a"/>
<rect x="1184" y="398.67" width="27.1" height="26.96" fill="#e98b6e"/>
<rect x="1210.95" y="398.67" width="27.1" height="26.96" fill="#e98b6e"/>
<rect x="1237.9" y="398.67" width="27.1" height="26.81" fill="#e6866a"/>
<rect x="1264.85" y="398.67" width="27.1" height="26.96" fill="#de735c"/>
<rect x="1291.8" y="398.67" width="27.1" height="26.96" fill="#de735c"/>
<rect x="1318.75" y="398.67" width="27.1" height="26.96" fill="#dc6e57"/>
<rect x="1345.7" y="398.67" width="27.1" height="26.96" fill="#d86551"/>
<rect x="1372.65" y="398.67" width="27.1" height="26.96" fill="#da6853"/>
<rect x="1399.6" y="398.67" width="27.1" height="26.96" fill="#db6b55"/>
<rect x="1426.55" y="398.67" width="27.1" height="26.96" fill="#cf5246"/>
<rect x="1453.5" y="398.67" width="27.1" height="26.96" fill="#d55d4c"/>
<rect x="1480.45" y="398.67" width="27.1" height="26.96" fill="#d7634f"/>
<rect x="1507.4" y="398.67" width="27.1" height="26.96" fill="#e58368"/>
<rect x="1534.35" y="398.67" width="26.95" height="26.81" fill="#f09c7b"/>
<rect x="1103.15" y="425.47" width="27.1" height="26.96" fill="#e17860"/>
<rect x="1130.1" y="425.47" width="27.1" height="26.96" fill="#d7634f"/>
<rect x="1157.05" y="425.47" width="27.1" height="26.81" fill="#dd7059"/>
<rect x="1184" y="425.47" width="27.1" height="26.81" fill="#e48066"/>
<rect x="1210.95" y="425.47" width="26.95" height="26.81" fill="#eb9172"/>
<rect x="1264.85" y="425.47" width="27.1" height="26.81" fill="#dd7059"/>
<rect x="1291.8" y="425.47" width="27.1" height="26.96" fill="#e98b6e"/>
<rect x="1318.75" y="425.47" width="27.1" height="26.96" fill="#e8896c"/>
<rect x="1345.7" y="425.47" width="27.1" height="26.81" fill="#d6604d"/>
<rect x="1372.65" y="425.47" width="27.1" height="26.96" fill="#cc4c44"/>
<rect x="1399.6" y="425.47" width="27.1" height="26.96" fill="#c6413e"/>
<rect x="1426.55" y="425.47" width="27.1" height="26.96" fill="#cc4c44"/>
<rect x="1453.5" y="425.47" width="27.1" height="26.96" fill="#d55d4c"/>
<rect x="1480.45" y="425.47" width="27.1" height="26.96" fill="#e17860"/>
<rect x="1507.4" y="425.47" width="26.95" height="26.81" fill="#ee9677"/>
<rect x="995.35" y="452.28" width="27.1" height="26.96" fill="#e6866a"/>
<rect x="1022.3" y="452.28" width="27.1" height="26.96" fill="#db6b55"/>
<rect x="1049.25" y="452.28" width="27.1" height="26.96" fill="#d35a4a"/>
<rect x="1076.2" y="452.28" width="27.1" height="26.96" fill="#d55d4c"/>
<rect x="1103.15" y="452.28" width="27.1" height="26.96" fill="#dd7059"/>
<rect x="1130.1" y="452.28" width="26.95" height="26.81" fill="#ec9374"/>
<rect x="1291.8" y="452.28" width="27.1" height="26.81" fill="#ee9677"/>
<rect x="1318.75" y="452.28" width="26.95" height="26.81" fill="#eb9172"/>
<rect x="1372.65" y="452.28" width="27.1" height="26.81" fill="#e17860"/>
<rect x="1399.6" y="452.28" width="27.1" height="26.96" fill="#d05548"/>
<rect x="1426.55" y="452.28" width="27.1" height="26.96" fill="#cf5246"/>
<rect x="1453.5" y="452.28" width="27.1" height="26.81" fill="#d6604d"/>
<rect x="1480.45" y="452.28" width="26.95" height="26.81" fill="#e98b6e"/>
<rect x="995.35" y="479.08" width="27.1" height="26.96" fill="#e37e64"/>
<rect x="1022.3" y="479.08" width="27.1" height="26.96" fill="#d7634f"/>
<rect x="1049.25" y="479.08" width="27.1" height="26.96" fill="#dc6e57"/>
<rect x="1076.2" y="479.08" width="27.1" height="26.96" fill="#e17860"/>
<rect x="1103.15" y="479.08" width="26.95" height="26.81" fill="#ee9677"/>
<rect x="1399.6" y="479.08" width="27.1" height="26.81" fill="#e17860"/>
<rect x="1426.55" y="479.08" width="26.95" height="26.96" fill="#e17860"/>
<rect x="1534.35" y="479.08" width="26.95" height="26.96" fill="#eb9172"/>
<rect x="995.35" y="505.89" width="27.1" height="26.81" fill="#f6b394"/>
<rect x="1022.3" y="505.89" width="27.1" height="26.96" fill="#f09c7b"/>
<rect x="1049.25" y="505.89" width="27.1" height="26.81" fill="#f19e7d"/>
<rect x="1076.2" y="505.89" width="26.95" height="26.81" fill="#f3a481"/>
<rect x="1426.55" y="505.89" width="26.95" height="26.81" fill="#ec9374"/>
<rect x="1507.4" y="505.89" width="27.1" height="26.81" fill="#f5ac8b"/>
<rect x="1534.35" y="505.89" width="26.95" height="26.96" fill="#f19e7d"/>
<rect x="1022.3" y="532.69" width="26.95" height="26.81" fill="#f9c6ac"/>
<rect x="1184" y="532.69" width="27.1" height="26.81" fill="#f5aa89"/>
<rect x="1210.95" y="532.69" width="27.1" height="26.81" fill="#f5ac8b"/>
<rect x="1237.9" y="532.69" width="26.95" height="26.81" fill="#f5ac8b"/>
<rect x="1534.35" y="532.69" width="26.95" height="26.81" fill="#fbccb4"/>
</g>
<g fill="none" stroke="#000" stroke-width="2.3" stroke-linejoin="round" stroke-linecap="butt">
<path d="M1468.55 48 L1447.35 59.8 L1424.25 59.1 L1393.35 65.4 L1329.05 94.1 L1284.45 130 L1268.25 141.7 L1239.95 156.6 L1202.15 168.1 L1188.45 178 L1192.25 210.6 L1197.95 226 L1217.95 234 L1237.35 230.6 L1265.35 214 L1275.65 223.1 L1286.45 243.1 L1298.45 259.1 L1302.45 272.6 L1319.65 272.3 L1327.05 260.9 L1345.35 262.1 L1353.05 249.7 L1358.55 224.9 L1372.75 221.4 L1386.95 204.9 L1371.95 195.7 L1362.95 186.5 L1373.45 166.7 L1401.05 154.3 L1424.15 142.3 L1420.75 133.4 L1436.25 123.7 L1460.25 119.8 L1480.75 126.7 L1482.15 133.1 L1440.45 150.9 L1425.95 160.8 L1419.95 168.9 L1426.45 181.7 L1423.35 195.4 L1436.25 200.2 L1445.65 208.3 L1462.75 205.7 L1493.65 199.7 L1520.25 198.9 L1535.65 205.8 L1518.85 213.5 L1506.45 214.2 L1488.45 211.7 L1471.35 213.6 L1452.15 217.1 L1453.35 225.7 L1463.65 231.4 L1467.95 229.5 L1463.65 248.9 L1451.65 249.2 L1440.45 238.6 L1426.75 243.7 L1419.95 251.4 L1419.95 261.7 L1422.45 274.6 L1402.45 279.7 L1399.65 285.7 L1385.95 285.7 L1384.75 283.1 L1370.15 279.7 L1332.45 290.5 L1319.65 296 L1310.45 290.4 L1296.55 285.2 L1288.75 288.7 L1273.95 292.1 L1273.35 288.1 L1259.25 284.1 L1258.45 277.9 L1255.05 271.6 L1265.35 261 L1270.45 262.6 L1273.95 256.9 L1267.65 255.1 L1264.75 251.7 L1268.15 245.4 L1268.75 238.6 L1257.95 242 L1252.15 246.6 L1239.05 247.5 L1232.95 256.3 L1233.35 271 L1239.85 279.6 L1240.75 287 L1243.25 291.8 L1233.35 299.6 L1230.75 295.9 L1218.45 297.1 L1216.15 300.1 L1204.15 299 L1184.15 305.3 L1171.65 326.9 L1164.15 330.6 L1140.15 336.6 L1136.15 347.4 L1102.55 359.1 L1089.05 353.2 L1093.25 368.9 L1069.05 365.4 L1050.75 368.9 L1051.95 379.5 L1074.15 384.9 L1085.05 392.9 L1099.75 407 L1097.05 436 L1088.95 444.8 L1070.65 443.8 L1054.55 445 L1038.35 442.4 L1020.35 442.7 L1001.85 439.5 L981.65 450.1 L987.95 456.3 L986.75 467.1 L990.75 477.4 L990.45 482.6 L986.15 496.9 L981.05 502 L979.95 511.8 L983.35 517 L989.65 518.7 L991.35 527.9 L989.05 538.1 L996.45 536.8 L1003.95 539.1 L1009.65 535.3 L1023.35 537.9 L1027.35 545.6 L1032.45 550.1 L1039.35 551.9 L1045.05 546.4 L1053.65 541.6 L1086.15 541.6 L1096.45 530.7 L1106.75 527.6 L1110.15 518.1 L1118.15 511.8 L1113.05 502.9 L1117.05 492.9 L1126.75 483.7 L1127.95 478.6 L1146.75 476.1 L1160.45 466.6 L1159.55 458.5 L1161.05 449.6 L1182.15 444.6 L1210.75 448.9 L1224.45 440.2 L1229.65 439.4 L1237.65 433.1 L1244.45 430.9 L1256.45 436 L1263.35 437.1 L1267.55 450.2 L1274.75 456.9 L1288.45 466.3 L1301.05 474 L1312.45 476.9 L1318.15 482 L1328.45 484.9 L1333.05 490.8 L1338.75 493.3 L1348.45 508.4 L1345.65 512.4 L1341.55 523.7 L1347.95 522.7 L1355.95 509.9 L1362.15 509 L1363.95 502 L1353.65 496.6 L1359.35 487.1 L1371.95 490 L1379.35 496.3 L1382.15 490 L1375.95 486 L1366.75 480.9 L1345.05 471.5 L1349.05 468.3 L1345.35 465.7 L1333.85 465.1 L1318.15 454.6 L1310.15 441.7 L1297.65 434.3 L1292.85 427.4 L1294.15 422.9 L1293.65 415.4 L1305.65 410.9 L1317.65 413.1 L1313.05 414.9 L1313.65 420.6 L1317.05 424.6 L1321.65 418.5 L1331.35 420.6 L1331.95 426.3 L1338.15 431.4 L1334.75 433.1 L1349.05 444 L1363.35 450 L1368.45 454 L1388.45 460.9 L1391.35 464.3 L1397.35 468.9 L1395.35 474 L1394.45 483.1 L1396.45 490 L1402.15 493.7 L1405.05 498.6 L1406.75 499.1 L1407.95 502.6 L1420.45 517.5 L1427.95 538.7 L1439.45 545.2 L1449.85 544.9 L1444.45 532.4 L1453.05 530.7 L1449.05 523.9 L1462.15 527.3 L1462.15 518.7 L1446.75 509 L1452.45 505.5 L1444.45 497.5 L1441.65 489.4 L1444.45 486.6 L1453.05 494 L1460.45 494 L1467.95 491.7 L1457.65 483.7 L1474.15 479.9 L1491.35 481.3 L1495.25 491 L1513.55 478.9 L1534.55 475.5 L1530.75 487 L1508.15 488.7 L1492.55 501.4 L1501.25 507.8 L1494.65 519.5 L1505.55 527 L1514.25 541.4 L1529.95 541.7 L1543.85 548.7 L1553.35 547 L1556.05 541.7 L1563.05 540.9"/>
<path d="M1563.05 395.5 L1552.45 407.6 L1542.15 416.7 L1542.75 421.3 L1535.35 424.1 L1531.35 422.4 L1527.35 439 L1519.35 445.3 L1514.45 456.5 L1520.35 469.4 L1534.55 475.5 L1536.05 476.5 L1563.05 477.7"/>
<path d="M1539.55 49 L1563.05 55"/>
<path d="M1563.05 56.6 L1547.25 59.9 L1563.05 67.5"/>
<path d="M1029.65 559 L1032.45 554.1 L1041.05 554.7 L1047.35 559"/>
<path d="M1094.15 559 L1101.05 554.1 L1114.75 552.4 L1125.05 546.1 L1137.65 542.1 L1149.05 541.3 L1162.75 539.5 L1185.65 538.4 L1193.05 541 L1206.15 535.3 L1221.05 534.5 L1227.95 538.4 L1237.65 537.2 L1253.05 531.3 L1263.95 533.6 L1263.35 541 L1275.35 534.7 L1276.45 537.6 L1268.45 545 L1269.05 551.3 L1274.15 555.3 L1274.75 559"/>
<path d="M1454.35 558.8 L1457.15 555.7 L1463.25 558.8"/>
<path d="M977.65 293.6 L1007.95 276.4 L1019.95 275.9 L1035.35 284.7 L1027.65 294.9 L1029.65 305 L1019.95 317 L993.65 325.6 L973.65 323.3 L985.05 308.7 Z"/>
<path d="M1044.45 225.9 L1056.45 227.3 L1074.15 225.9 L1058.15 241.5 L1073.05 239.2 L1089.05 239.2 L1085.65 251 L1071.95 264.1 L1086.75 265.1 L1101.05 283.9 L1110.15 286.1 L1123.95 307.9 L1141.25 310.6 L1139.25 320 L1132.35 323.9 L1137.85 331.6 L1124.75 338.9 L1105.95 338.3 L1081.35 342.9 L1074.45 340 L1064.75 346.6 L1049.95 344.8 L1041.35 350.9 L1033.95 347.4 L1055.65 332.6 L1068.15 329.9 L1044.75 326.8 L1040.95 321.1 L1056.05 317.1 L1048.35 308.8 L1050.65 299.8 L1071.95 300.7 L1074.15 293 L1064.45 283.9 L1047.35 281.3 L1043.95 277.5 L1049.05 270.5 L1044.25 267 L1036.65 273.8 L1035.95 259.6 L1027.95 252.1 L1033.05 237.3 Z"/>
<path d="M1273.35 266.6 L1293.95 262.3 L1299.25 269.4 L1290.85 280.9 L1275.35 271.8 Z"/>
<path d="M1251.95 450 L1254.15 462.3 L1249.65 473.4 L1242.75 470.8 L1239.35 461.3 L1242.75 455.5 Z"/>
<path d="M1249.05 476.5 L1257.65 486.6 L1255.95 506 L1249.65 504.3 L1243.35 509.4 L1237.65 505.3 L1237.05 488.9 L1234.15 479.9 L1241.65 480.6 Z"/>
<path d="M1297.05 520.4 L1314.75 521.6 L1339.95 518.3 L1334.55 530.7 L1337.05 534.7 L1333.85 542.7 L1321.65 536.4 L1295.35 527.6 Z"/>
</g>
<g stroke="#787878" stroke-width="1.4" stroke-dasharray="4.7 1.7" opacity="0.5" fill="none">
<path d="M972.89 50.55 V559.15"/>
<path d="M1116.62 50.55 V559.15"/>
<path d="M1260.36 50.55 V559.15"/>
<path d="M1404.09 50.55 V559.15"/>
<path d="M1547.82 50.55 V559.15"/>
<path d="M968.8 493.96 H1561.7"/>
<path d="M968.8 350.23 H1561.7"/>
<path d="M968.8 206.5 H1561.7"/>
<path d="M968.8 62.78 H1561.7"/>
</g>
</g>
<rect x="968.8" y="49.85" width="592.9" height="509.3" fill="none" stroke="#000" stroke-width="3.35" stroke-linejoin="miter"/>
<g font-size="24.0" fill="#000" stroke="#000" stroke-width="0.3">
<text x="972.89" y="598.4" text-anchor="middle">10°W</text>
<text x="1116.62" y="598.4" text-anchor="middle">0°</text>
<text x="1260.36" y="598.4" text-anchor="middle">10°E</text>
<text x="1404.09" y="598.4" text-anchor="middle">20°E</text>
<text x="1547.82" y="598.4" text-anchor="middle">30°E</text>
</g>
<text transform="translate(1265.25 26.1) scale(1 0.975)" text-anchor="middle" font-size="33.65" stroke="#000" stroke-width="0.3">Ensemble spread</text>
<text x="901.3" y="33.8"  font-size="27.7" letter-spacing="0.35" stroke="#000" stroke-width="0.3">b)</text>
<rect x="1598.5" y="55.5" width="25.1" height="498.5" fill="url(#rdbu)"/>
<rect x="1598.5" y="55.5" width="25.1" height="498.5" fill="none" stroke="#000" stroke-width="3.35"/>
<g stroke="#000" stroke-width="3.6" font-size="27.9">
<path d="M1623.6 55.5 h14.3"/>
<text x="1651.7" y="66.1" stroke-width="0.3">40</text>
<path d="M1623.6 180.12 h14.3"/>
<text x="1651.7" y="190.72" stroke-width="0.3">20</text>
<path d="M1623.6 304.75 h14.3"/>
<text x="1651.7" y="315.35" stroke-width="0.3">0</text>
<path d="M1623.6 429.38 h14.3"/>
<text x="1651.7" y="439.98" stroke-width="0.3">−20</text>
<path d="M1623.6 554 h14.3"/>
<text x="1651.7" y="564.6" stroke-width="0.3">−40</text>
</g>
<text transform="translate(1747 364.6) rotate(-90)" stroke="#000" stroke-width="0.3"><tspan x="-2.44" y="0" font-size="28.6">(</tspan><tspan x="14.65" y="-6.4" font-size="20.02">°</tspan><tspan x="30.3" y="0" font-size="28.6">C </tspan><tspan x="58.56" y="0" font-size="28.6">/ </tspan><tspan x="73.9" y="-6.4" font-size="20.02">°</tspan><tspan x="88.76" y="0" font-size="28.6">C</tspan><tspan x="107.55" y="0" font-size="28.6">)</tspan></text>
</g>
</svg>
</body>
</html>
